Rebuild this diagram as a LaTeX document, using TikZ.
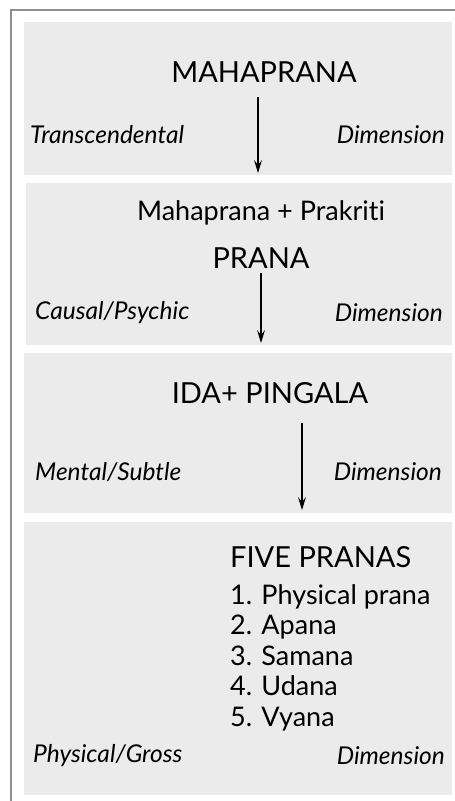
\documentclass[tikz,border=0pt]{standalone}
\usepackage{fontspec}
\setmainfont[Ligatures=CommonOff]{Lato}
\usetikzlibrary{arrows.meta}
\definecolor{panelgray}{HTML}{EBEBEB}
\definecolor{framegray}{HTML}{8E8E8E}
\tikzset{
  panel/.style={fill=panelgray, draw=none},
  head/.style={font=\fontsize{27}{30}\selectfont, inner sep=0pt},
  caps/.style={font=\fontsize{29}{32}\selectfont, inner sep=0pt},
  dim/.style={font=\fontsize{24.5}{28}\selectfont\itshape, inner sep=0pt},
  item/.style={font=\fontsize{27}{30.5}\selectfont, inner sep=0pt, align=left},
  flow/.style={-{Stealth[length=13pt,width=8pt,inset=5pt]}, line width=1.3pt, black}
}
\begin{document}
\begin{tikzpicture}[x=1pt,y=-1pt]
\useasboundingbox (0,0) rectangle (455,801);
% frame
\draw[framegray, line width=2.2pt] (11,801) -- (11,10) -- (455,10);
% panels
\fill[panel] (24,22) rectangle (452,175);
\fill[panel] (26,183) rectangle (452,345);
\fill[panel] (24,353) rectangle (452,513);
\fill[panel] (24,522) rectangle (452,795);
% panel 1
\node[caps] (maha) at (264,72) {MAHAPRANA};
\node[dim, anchor=west] (transc) at (30,135) {Transcendental};
\node[dim, anchor=east] (dim1) at (445,135) {Dimension};
\coordinate (a1s) at (258,97);
\coordinate (a1e) at (258,173);
\draw[flow] (a1s) -- (a1e);
% panel 2
\node[head] (mp) at (261,213) {Mahaprana + Prakriti};
\node[caps] (prana) at (261,258) {PRANA};
\node[dim, anchor=west] (causal) at (35,313) {Causal/Psychic};
\node[dim, anchor=east] (dim2) at (443,313) {Dimension};
\coordinate (a2s) at (261,273);
\coordinate (a2e) at (261,343);
\draw[flow] (a2s) -- (a2e);
% panel 3
\node[caps] (ida) at (270,393) {IDA+ PINGALA};
\node[dim, anchor=west] (mental) at (35,472) {Mental/Subtle};
\node[dim, anchor=east] (dim3) at (442,472) {Dimension};
\coordinate (a3s) at (302,423);
\coordinate (a3e) at (302,510);
\draw[flow] (a3s) -- (a3e);
% panel 4
\node[caps, anchor=west] (five) at (230,557) {FIVE PRANAS};
\node[item, anchor=north west] (list) at (230,584) {1. Physical prana\\2. Apana\\3. Samana\\4. Udana\\5. Vyana};
\node[dim, anchor=west] (phys) at (33,756) {Physical/Gross};
\node[dim, anchor=east] (dim4) at (445,756) {Dimension};
\end{tikzpicture}
\end{document}
